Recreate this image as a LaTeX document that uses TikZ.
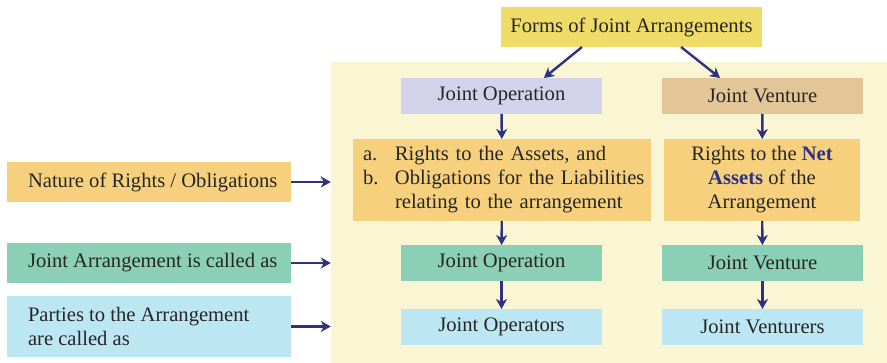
\documentclass[tikz,border=0pt]{standalone}
\usepackage{fontspec}
\setmainfont{Liberation Serif}
\usepackage{xcolor}
\usetikzlibrary{arrows.meta, positioning}
\definecolor{navy}{HTML}{2E3282}
\definecolor{ink}{HTML}{262626}
\definecolor{cream}{HTML}{FAF6D3}
\definecolor{formsyel}{HTML}{EEDB68}
\definecolor{lavender}{HTML}{D2D2EA}
\definecolor{tan}{HTML}{E3C698}
\definecolor{peach}{HTML}{F7D07D}
\definecolor{mint}{HTML}{8BCFB6}
\definecolor{sky}{HTML}{BDE6F3}
\newcommand{\lline}[1]{\makebox[242pt][l]{#1}}

\begin{document}
\begin{tikzpicture}[x=1pt, y=-1pt,
  box/.style={inner sep=0pt, outer sep=0pt, minimum width=201pt, minimum height=36pt,
    text=ink, font=\fontsize{20.6}{24}\selectfont},
  lbox/.style={box, minimum width=284pt, minimum height=40pt, inner xsep=21pt, align=left},
  arr/.style={navy, line width=2.4pt, -{Stealth[length=10pt, width=11pt, inset=3pt]}}]
  \useasboundingbox (0,0) rectangle (887,363);

  % background panel
  \node[fill=cream, inner sep=0pt, minimum width=556pt, minimum height=301pt] (panel) at (609,212.5) {};

  % top
  \node[box, fill=formsyel, minimum width=261pt, minimum height=40pt] (forms) at (631.5,27) {Forms of Joint Arrangements};
  \node[box, fill=lavender] (jo) at (501.5,96) {Joint Operation};
  \node[box, fill=tan] (jv) at (762.5,96) {Joint Venture};

  % rights
  \node[box, fill=peach, minimum width=298pt, minimum height=82pt, text width=278pt,
    inner xsep=10pt, align=left] (rightsjo) at (502,180)
    {\begin{tabular}{@{}p{32pt}@{}l@{}}
      a. & Rights to the Assets, and\\
      b. & Obligations for the Liabilities\\
         & relating to the arrangement
    \end{tabular}};
  \node[box, fill=peach, minimum width=196pt, minimum height=82pt, align=center] (rightsjv) at (762,180)
    {Rights to the \textbf{\color{navy}Net}\\ \textbf{\color{navy}Assets} of the\\ Arrangement};

  % called as
  \node[box, fill=mint] (jocalled) at (501.5,263) {Joint Operation};
  \node[box, fill=mint] (jvcalled) at (762.5,263) {Joint Venture};
  \node[box, fill=sky] (operators) at (501.5,327) {Joint Operators};
  \node[box, fill=sky] (venturers) at (762.5,327) {Joint Venturers};

  % left side
  \node[lbox, fill=peach] (nature) at (149,182) {\lline{Nature of Rights / Obligations}};
  \node[lbox, fill=mint] (called) at (149,263) {\lline{Joint Arrangement is called as}};
  \node[lbox, fill=sky, minimum height=61pt] (parties) at (149,326.5)
    {\lline{Parties to the Arrangement}\\ \lline{are called as}};

  % arrows
  \draw[arr] (forms.202) -- (jo.23);
  \draw[arr] (forms.338) -- (jv.157);
  \draw[arr] (jo) -- (rightsjo);
  \draw[arr] (jv) -- (rightsjv);
  \draw[arr] (rightsjo) -- (jocalled);
  \draw[arr] (rightsjv) -- (jvcalled);
  \draw[arr] (jocalled) -- (operators);
  \draw[arr] (jvcalled) -- (venturers);
  \draw[arr] (nature.east) -- (nature.east -| panel.west);
  \draw[arr] (called.east) -- (called.east -| panel.west);
  \draw[arr] (parties.east) -- (parties.east -| panel.west);
\end{tikzpicture}
\end{document}
